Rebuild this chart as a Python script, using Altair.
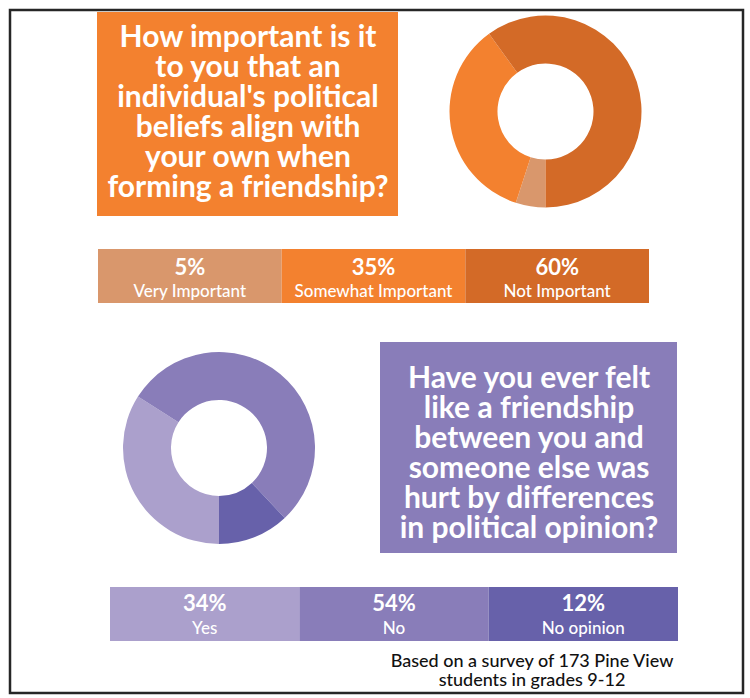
import math
import altair as alt
import pandas as pd

# ---------------- data ----------------
q1_lines = ["How important is it", "to you that an", "individual's political",
            "beliefs align with", "your own when", "forming a friendship?"]
q1_cats = ["Very Important", "Somewhat Important", "Not Important"]
q1_vals = [5, 35, 60]
q1_colors = ["#D9976C", "#F3812F", "#D36A27"]

q2_lines = ["Have you ever felt", "like a friendship", "between you and",
            "someone else was", "hurt by differences", "in political opinion?"]
q2_cats = ["Yes", "No", "No opinion"]
q2_vals = [34, 54, 12]
q2_colors = ["#ABA0CC", "#897DB9", "#6761AA"]

note_lines = ["Based on a survey of 173 Pine View", "students in grades 9-12"]

FONT = "Lato"
one = alt.Data(values=[{"a": 1}])


def box(x0, x1, y0, y1, fill):
    return alt.Chart(one).mark_rect(fill=fill).encode(
        x=alt.value(x0), x2=alt.value(x1), y=alt.value(y0), y2=alt.value(y1))


def question(lines, cx, y, size=30):
    return alt.Chart(one).mark_text(
        text=lines, font=FONT, fontWeight="bold", fontSize=size, lineHeight=30,
        color="white", align="center", baseline="alphabetic"
    ).encode(x=alt.value(cx), y=alt.value(y))


def donut(cats, vals, colors, cx, cy):
    df = pd.DataFrame({"cat": cats, "value": vals, "k": list(range(len(cats)))})
    return alt.Chart(df).mark_arc(outerRadius=96, innerRadius=48).encode(
        theta=alt.Theta("value:Q", stack=True,
                        scale=alt.Scale(domain=[0, sum(vals)], range=[math.pi, 3 * math.pi])),
        color=alt.Color("cat:N", scale=alt.Scale(domain=cats, range=colors), legend=None),
        order=alt.Order("k:Q"),
        x=alt.value(cx), y=alt.value(cy))


def segbar(cats, vals, colors, x0, x1, y0, y1, ypct, ylab):
    df = pd.DataFrame({"cat": cats, "pct": [f"{v}%" for v in vals]})
    sc = alt.Scale(domain=cats, range=[x0, x1], paddingInner=0, paddingOuter=0)
    rect = alt.Chart(df).mark_rect().encode(
        x=alt.X("cat:N", scale=sc, axis=None),
        y=alt.value(y0), y2=alt.value(y1),
        color=alt.Color("cat:N", scale=alt.Scale(domain=cats, range=colors), legend=None))
    pct = alt.Chart(df).mark_text(
        font=FONT, fontWeight="bold", fontSize=22, color="white",
        align="center", baseline="alphabetic").encode(
        x=alt.X("cat:N", scale=sc, axis=None, bandPosition=0.5),
        y=alt.value(ypct), text="pct:N")
    lab = alt.Chart(df).mark_text(
        font=FONT, fontWeight=500, fontSize=17, color="white",
        align="center", baseline="alphabetic").encode(
        x=alt.X("cat:N", scale=sc, axis=None, bandPosition=0.5),
        y=alt.value(ylab), text="cat:N")
    return [rect, pct, lab]


frame = alt.Chart(one).mark_rect(filled=False, stroke="#262626", strokeWidth=2.5).encode(
    x=alt.value(10), x2=alt.value(743), y=alt.value(10), y2=alt.value(693))

note = alt.Chart(one).mark_text(
    text=note_lines, font=FONT, fontWeight=500, fontSize=18, lineHeight=18.5,
    color="#111111", align="center", baseline="alphabetic"
).encode(x=alt.value(532), y=alt.value(667))

layers = [
    box(97, 398, 12, 216, "#F3812F"),
    question(q1_lines, 248, 46.7),
    donut(q1_cats, q1_vals, q1_colors, 545.5, 111.5),
    *segbar(q1_cats, q1_vals, q1_colors, 98, 649, 249, 303, 275, 297),
    donut(q2_cats, q2_vals, q2_colors, 219, 448),
    box(380, 677, 342, 553, "#897DB9"),
    question(q2_lines, 529, 388),
    *segbar(q2_cats, q2_vals, q2_colors, 110, 678, 587, 641, 611, 634),
    note,
    frame,
]

chart = alt.layer(*layers).resolve_scale(
    x="independent", y="independent", color="independent", theta="independent"
).properties(
    width=750, height=698, padding=0,
    autosize=alt.AutoSizeParams(type="none"),
    background="white",
).configure_view(stroke=None)

chart.save("out.html", embed_options={"renderer": "svg", "actions": False})
